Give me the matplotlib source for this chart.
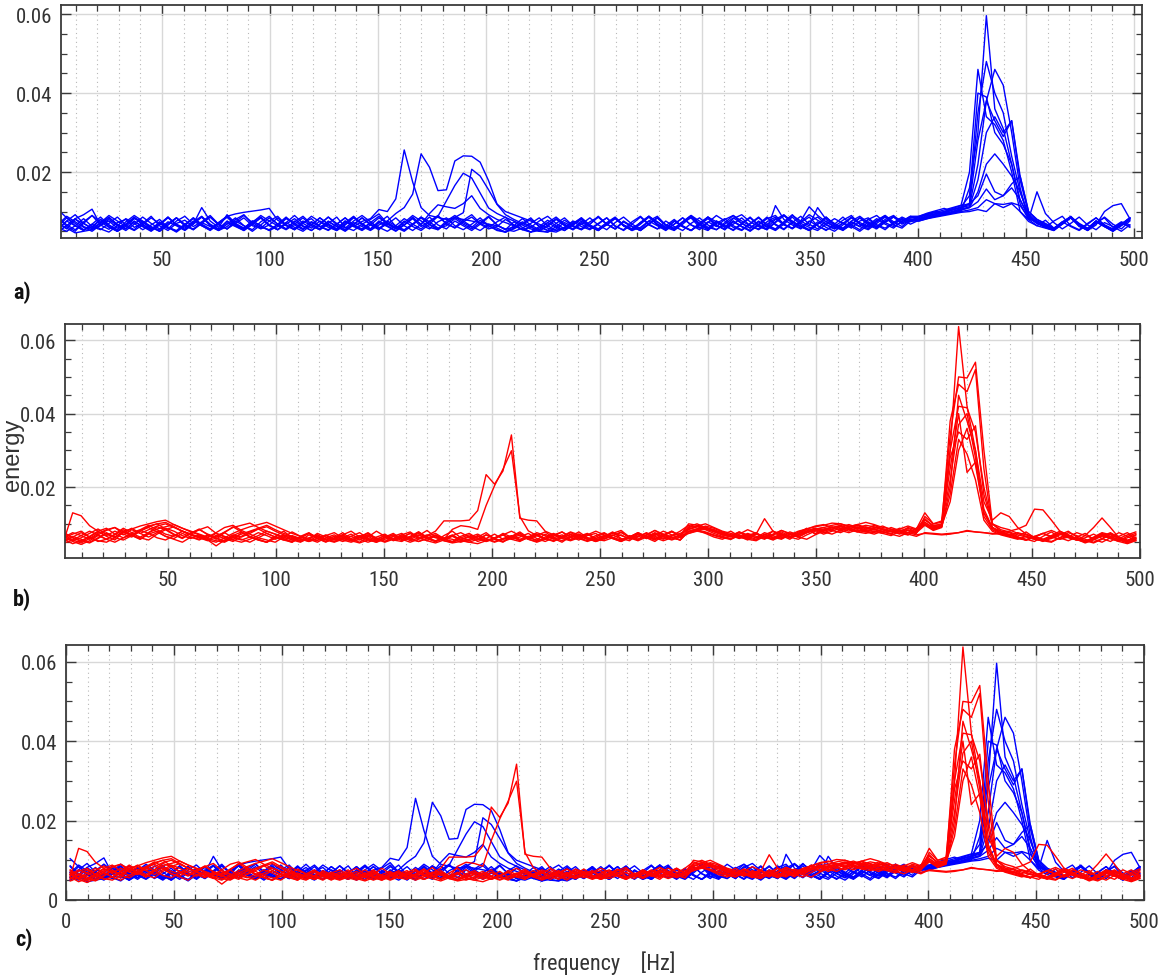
import numpy as np
import matplotlib
matplotlib.use("Agg")
import matplotlib.pyplot as plt
from matplotlib.ticker import MultipleLocator, FuncFormatter

NARROW = ['Liberation Sans Narrow', 'Roboto Condensed', 'DejaVu Sans Condensed',
          'Arial Narrow', 'Liberation Sans', 'DejaVu Sans']
plt.rcParams['font.family'] = NARROW
plt.rcParams['font.stretch'] = 'condensed'

# frequency axis [Hz]; values below are energy in units of 1e-4
freq = (np.arange(1, 129) - 0.5) * 500 / 128
UNIT = 1e-4

blue_1 = [84,62,50,74,90,66,55,72,80,60,70,88,64,52,70,78,
          62,74,90,68,56,70,84,64,58,76,88,66,54,72,82,62,
          70,86,60,52,68,80,94,70,58,66,82,62,76,90,68,60,
          78,92,70,60,74,86,64,54,48,58,72,60,52,66,80,62,
          56,72,86,64,52,60,76,88,66,58,74,84,60,52,70,82,
          64,54,70,86,66,56,74,92,70,60,52,68,82,70,58,76,
          84,66,58,72,80,68,78,84,88,92,96,100,160,300,596,360,
          310,220,120,80,64,78,58,70,86,62,54,72,84,60,74,66]
blue_2 = [56,76,92,70,58,80,66,50,62,82,74,56,68,86,66,54,
          72,86,64,52,62,80,92,68,56,66,84,64,54,70,88,74,
          60,52,66,84,70,56,72,88,62,54,68,86,74,58,64,82,
          68,56,72,88,66,54,50,58,70,84,64,52,60,76,68,56,
          70,84,62,54,74,88,68,56,64,80,62,52,70,86,74,60,
          76,62,52,66,82,90,68,56,72,86,64,54,62,78,90,68,
          60,74,88,66,82,74,82,90,95,100,108,115,120,350,480,400,
          350,240,150,90,70,60,76,88,64,54,70,84,66,56,72,62]
blue_3 = [104,84,64,52,68,56,48,64,82,70,54,66,80,60,52,68,
          82,64,54,70,86,66,58,76,64,52,62,82,70,56,66,84,
          68,56,76,62,52,66,84,70,58,72,90,76,60,54,70,86,
          72,60,78,64,54,48,56,68,80,62,52,70,84,64,56,74,
          86,68,56,76,62,52,70,84,66,56,74,90,76,60,54,68,
          84,70,58,74,60,80,92,74,62,54,68,84,70,58,76,88,
          72,60,76,86,78,84,86,92,98,104,110,116,200,460,340,320,
          280,200,100,75,64,58,52,70,84,66,56,76,62,50,64,78]
blue_4 = [70,56,82,92,106,66,76,58,68,84,74,60,54,70,84,64,
          56,72,86,68,56,74,90,72,60,54,66,84,70,56,74,62,
          54,68,84,66,56,72,60,50,64,82,68,56,74,88,70,58,
          74,86,68,56,62,80,66,54,60,76,88,70,56,66,82,64,
          54,66,82,64,56,70,86,66,54,68,84,66,58,74,62,80,
          90,76,64,54,68,82,66,58,74,92,78,66,56,70,86,72,
          62,78,90,74,62,80,80,88,94,100,106,110,115,220,380,460,
          420,300,160,80,76,62,56,72,86,70,58,76,64,52,68,84]
blue_5 = [50,64,80,70,56,72,90,76,62,52,66,84,70,56,76,88,
          68,110,76,60,92,70,58,74,86,66,54,68,82,64,52,68,
          86,70,58,76,90,74,58,68,84,64,52,68,86,66,56,76,
          64,52,68,86,66,54,74,60,48,62,78,64,52,68,84,66,
          56,68,84,64,52,68,86,74,58,76,64,52,66,82,64,56,
          68,84,64,56,74,86,68,58,76,112,90,74,60,54,66,84,
          70,58,72,86,70,84,84,94,100,96,104,112,140,400,390,300,
          270,220,130,85,70,64,56,72,88,68,56,76,64,54,68,82]
blue_6 = [64,84,70,54,62,80,62,50,68,86,66,54,74,60,50,66,
          84,66,54,72,88,94,98,101,104,108,78,66,56,76,64,54,
          68,54,72,88,68,56,76,64,52,66,86,66,56,74,84,64,
          54,68,84,64,52,48,58,74,62,50,66,82,64,54,68,84,
          66,54,72,86,68,56,76,64,52,68,84,66,54,72,90,76,
          60,52,68,84,66,54,72,90,76,64,110,80,66,56,74,62,
          80,90,72,62,74,88,80,86,92,98,104,110,120,280,380,330,
          290,330,190,100,80,70,58,74,86,66,54,74,62,52,66,80]
blue_7 = [58,50,64,82,62,54,70,86,66,54,74,60,50,66,84,64,
          54,70,86,66,56,76,64,50,66,84,68,56,74,88,68,56,
          76,62,52,68,84,66,54,72,60,50,66,84,68,56,76,90,
          76,62,52,68,58,48,64,82,66,54,72,86,68,56,76,62,
          52,68,84,66,56,72,88,74,60,52,68,86,66,54,74,60,
          82,92,74,62,54,115,80,66,56,74,86,68,56,72,62,50,
          66,82,68,58,76,88,88,96,102,108,100,106,112,180,300,340,
          300,330,180,95,76,66,54,72,86,64,54,74,62,50,66,84]
blue_8 = [68,88,74,60,50,66,84,68,56,76,62,52,68,86,66,54,
          74,88,68,56,76,64,52,68,84,66,54,72,60,50,66,84,
          68,56,76,62,75,82,105,100,132,256,175,110,90,85,80,84,
          80,76,72,68,64,56,60,70,84,62,52,48,58,74,62,54,
          68,84,64,52,68,86,66,56,76,62,52,70,84,66,54,72,
          90,70,58,76,62,52,68,86,66,54,74,60,50,66,84,68,
          56,76,90,70,82,76,88,94,98,92,96,104,110,150,220,246,
          220,190,150,90,74,62,54,68,84,64,52,70,86,68,56,76]
blue_9 = [56,76,64,52,68,86,66,54,74,90,76,62,50,66,84,68,
          54,72,62,52,68,84,64,54,74,88,68,56,76,62,52,68,
          86,66,54,72,62,52,66,76,95,110,144,246,212,153,155,228,
          241,240,225,178,119,100,92,84,76,68,58,52,60,70,84,64,
          52,68,84,64,54,72,88,68,56,76,62,52,68,86,66,54,
          74,62,52,68,86,66,54,72,88,68,56,76,62,52,68,84,
          66,56,74,88,68,78,78,84,88,94,100,108,120,140,195,150,
          140,170,190,100,80,68,56,74,62,52,68,84,66,54,72,60]
blue_10 = [86,66,54,70,90,74,60,50,66,84,68,54,72,60,48,64,
           84,68,56,72,88,68,56,76,64,52,68,86,66,54,74,62,
           52,68,84,64,54,72,88,68,56,76,62,52,68,88,127,166,
           197,185,147,109,95,85,76,66,56,50,48,56,72,62,54,68,
           86,68,56,74,62,52,68,84,66,54,74,90,70,58,76,64,
           52,68,84,64,54,72,90,76,62,52,68,86,66,54,74,62,
           54,70,86,66,58,76,76,82,88,92,98,104,110,125,157,130,
           140,160,130,90,72,60,54,72,86,66,56,76,64,52,68,84]
blue_11 = [50,64,82,62,54,70,86,66,56,74,62,50,66,84,68,58,
           76,64,52,68,86,66,54,72,90,76,64,54,68,84,64,54,
           74,62,50,66,84,68,56,76,64,52,68,86,66,54,72,85,
           97,207,190,155,118,92,80,70,60,52,48,62,78,64,54,68,
           88,68,56,74,62,52,68,84,64,54,72,88,68,56,76,64,
           54,70,86,66,56,74,90,70,58,76,64,52,68,86,66,54,
           74,62,80,90,72,80,76,82,86,90,94,98,100,105,100,120,
           110,120,100,80,150,95,72,56,70,86,66,54,72,62,50,66]
blue_12 = [70,58,46,50,54,64,80,64,52,68,86,70,56,74,64,52,
           68,86,66,54,72,62,52,68,84,64,54,72,90,70,58,76,
           64,52,68,86,66,54,72,62,50,66,84,68,95,117,112,108,
           120,140,108,92,80,72,64,56,48,52,62,80,66,54,72,62,
           52,68,84,66,54,72,88,68,56,76,62,52,70,86,66,54,
           76,62,50,66,84,68,56,74,62,52,68,86,66,54,72,62,
           80,66,54,72,86,76,78,84,90,96,98,100,104,110,130,120,
           118,122,115,85,70,60,52,68,84,64,52,66,100,115,120,82]

red_1 = [58,130,122,95,80,66,56,78,70,58,76,92,84,70,60,74,
         86,70,58,76,92,78,64,56,50,66,80,62,54,70,60,50,
         62,76,58,50,64,80,66,56,52,64,78,60,52,68,80,62,
         54,64,76,58,50,66,78,62,56,72,60,50,66,78,62,54,
         66,78,60,54,72,62,52,68,80,66,92,100,90,84,70,80,
         66,56,74,62,80,68,58,74,88,72,84,92,80,90,96,86,
         96,86,80,74,88,78,110,96,98,300,637,420,300,130,90,80,
         76,66,78,62,54,60,70,80,64,54,48,58,72,62,52,70]
red_2 = [70,56,48,60,74,84,90,72,64,80,94,100,86,72,62,76,
         84,92,74,66,56,76,66,58,50,66,58,50,66,76,60,52,
         60,70,54,64,76,60,52,66,74,58,68,82,64,54,50,58,
         66,52,60,72,58,64,74,58,68,78,62,54,64,72,58,54,
         64,74,82,64,76,64,56,70,80,68,100,96,88,80,70,66,
         78,64,74,60,70,82,72,64,76,86,90,96,100,92,98,104,
         98,90,86,80,76,74,120,100,108,340,500,497,540,300,100,80,
         70,64,58,52,66,78,62,54,64,74,58,50,62,76,66,54]
red_3 = [54,64,76,64,54,50,62,80,86,94,100,106,110,98,88,80,
         72,64,76,90,96,82,72,62,56,50,64,56,50,62,70,58,
         52,62,72,58,50,58,68,54,62,74,64,54,48,56,66,54,
         50,46,54,62,70,58,52,64,72,58,66,78,64,56,68,74,
         58,68,78,62,54,64,74,60,68,80,96,88,84,74,66,60,
         72,84,74,64,58,72,64,78,86,92,96,102,100,94,86,92,
         84,78,74,86,94,86,114,92,96,380,480,460,520,250,90,74,
         72,64,56,66,58,52,62,70,58,48,56,68,60,52,46,54]
red_4 = [64,52,44,54,68,58,70,84,70,80,92,100,104,92,80,72,
         84,72,64,78,90,96,102,90,80,72,64,78,66,58,74,64,
         56,70,80,64,56,50,64,58,70,78,62,54,68,60,52,66,
         74,60,52,60,70,80,68,58,52,64,74,60,54,62,70,80,
         70,62,56,64,76,66,58,68,78,68,88,84,92,80,72,68,
         62,74,66,58,72,82,74,68,80,88,82,90,96,88,82,78,
         88,94,84,78,90,84,100,86,94,300,420,416,350,200,100,90,
         84,74,66,58,54,50,62,76,68,58,50,60,74,64,56,60]
red_5 = [62,72,80,64,52,58,72,88,76,84,96,84,72,66,80,72,
         64,56,50,62,74,84,92,98,104,94,84,74,66,60,54,68,
         76,62,54,68,60,52,64,74,58,66,78,64,52,60,70,56,
         50,58,70,60,52,64,74,60,68,60,52,64,76,66,58,68,
         76,62,54,68,58,70,82,68,62,56,86,92,86,78,70,64,
         76,66,58,72,64,58,70,80,86,94,98,90,84,94,88,80,
         76,86,80,72,84,76,104,90,92,280,350,330,367,180,100,84,
         78,70,64,58,54,62,74,64,56,62,72,60,52,66,76,60]
red_6 = [76,62,54,48,60,74,64,76,88,74,84,94,100,90,80,70,
         66,60,54,50,62,72,80,88,96,84,74,66,58,54,66,58,
         52,60,54,48,56,64,72,58,66,58,52,60,68,54,48,52,
         58,68,58,50,58,66,54,62,72,60,70,64,56,66,72,58,
         54,62,70,58,64,76,66,58,68,74,84,94,100,90,80,74,
         68,62,56,70,62,74,64,58,70,80,86,90,82,92,98,90,
         86,78,72,84,76,86,130,100,104,250,400,240,268,140,90,76,
         80,86,96,140,138,110,80,68,60,54,58,66,76,62,54,64]
red_7 = [64,76,68,58,70,82,90,78,68,62,56,72,84,92,80,70,
         62,54,68,60,52,66,78,86,74,64,56,50,64,58,50,62,
         70,58,66,76,60,52,62,70,58,50,58,66,74,60,68,76,
         64,56,70,60,52,60,70,58,50,58,70,78,64,72,60,52,
         60,70,58,64,74,60,68,80,70,62,80,86,94,88,78,70,
         64,58,54,66,60,70,62,74,84,74,82,90,94,86,78,86,
         90,84,78,88,82,76,96,82,90,200,450,380,300,160,110,130,
         120,90,72,64,58,68,80,70,58,52,64,76,70,60,70,78]
red_8 = [48,56,68,80,70,58,50,62,74,64,76,86,92,98,88,78,
         70,62,74,64,56,50,58,68,80,72,60,52,62,74,64,56,
         50,58,66,56,70,62,52,60,70,60,52,60,70,58,50,62,
         70,60,52,60,74,64,56,64,76,68,58,66,78,70,62,56,
         64,76,68,60,66,74,62,54,62,70,90,94,88,82,74,68,
         78,70,62,76,68,60,72,64,58,70,80,86,92,98,90,96,
         92,86,80,74,70,82,112,94,100,220,370,400,280,120,84,72,
         66,60,56,64,74,82,72,62,56,52,62,74,66,56,48,56]
red_9 = [74,62,52,64,78,68,80,70,84,74,64,76,88,80,68,60,
         70,56,40,56,70,64,74,86,92,80,70,64,58,52,60,68,
         60,52,60,68,58,50,58,66,54,62,70,60,52,60,68,56,
         64,72,60,52,60,68,58,66,54,60,72,64,56,68,60,52,
         60,68,76,64,56,68,60,72,64,56,78,82,88,84,76,70,
         62,72,62,70,80,72,62,70,76,84,90,82,76,86,92,82,
         86,80,90,82,76,88,104,88,96,160,300,360,260,130,88,74,
         70,62,56,64,74,66,58,64,76,68,60,72,64,58,50,58]
red_10 = [58,46,54,66,80,88,72,62,70,82,74,62,56,68,80,70,
          62,56,68,76,62,56,64,76,68,58,68,60,52,60,70,58,
          66,56,50,58,66,54,62,70,58,64,74,62,54,62,58,50,
          58,66,54,62,70,58,64,74,60,52,62,70,58,66,74,60,
          68,60,52,64,74,64,76,66,58,68,74,80,76,68,62,58,
          68,60,72,64,56,66,78,70,80,88,76,84,92,84,78,74,
          80,74,84,78,70,82,98,84,92,180,330,290,220,110,80,70,
          64,58,66,60,52,64,74,64,56,68,90,116,90,62,52,62]
red_11 = [66,54,62,74,86,72,62,56,68,82,90,78,66,60,74,64,
          58,70,62,54,68,78,64,56,50,60,70,56,64,74,60,52,
          60,70,56,64,74,58,68,56,64,74,60,68,80,108,108,108,
          110,136,234,208,244,342,115,110,108,80,70,60,72,62,54,64,
          74,62,54,66,58,70,82,72,64,56,80,84,78,70,64,58,
          70,62,72,114,80,62,72,64,76,82,72,80,88,80,90,84,
          80,74,68,80,72,66,76,74,72,74,76,80,78,76,74,72,
          68,76,70,62,56,66,76,66,58,50,60,72,62,54,66,74]
red_12 = [52,66,58,50,62,76,64,78,68,58,72,80,66,58,50,64,
          56,68,60,52,66,58,50,62,74,64,56,68,60,52,60,70,
          58,66,54,62,70,58,50,58,66,54,62,70,62,58,85,95,
          92,85,150,204,249,299,120,81,68,60,54,62,70,60,52,60,
          68,60,52,62,70,60,72,64,56,64,74,82,74,64,58,68,
          60,68,76,62,70,78,66,74,80,86,78,72,82,76,84,78,
          72,80,72,66,76,70,74,72,70,72,76,82,78,76,72,74,
          70,62,56,66,74,64,58,68,60,52,60,68,60,52,62,70]

blue_series = [blue_1, blue_2, blue_3, blue_4, blue_5, blue_6,
               blue_7, blue_8, blue_9, blue_10, blue_11, blue_12]
red_series = [red_1, red_2, red_3, red_4, red_5, red_6,
              red_7, red_8, red_9, red_10, red_11, red_12]
for i, s in enumerate(blue_series + red_series):
    assert len(s) == 128, (i, len(s))

W, H = 1164, 979
fig = plt.figure(figsize=(W / 100, H / 100), dpi=100)

def box(l, t, r, b):
    return [l / W, 1 - b / H, (r - l) / W, (b - t) / H]

TXT = '#333333'

def style(ax, xlim, ylim):
    ax.set_xlim(*xlim)
    ax.set_ylim(*ylim)
    ax.xaxis.set_major_locator(MultipleLocator(50))
    ax.xaxis.set_minor_locator(MultipleLocator(10))
    ax.yaxis.set_major_locator(MultipleLocator(0.02))
    ax.yaxis.set_minor_locator(MultipleLocator(0.005))
    ax.yaxis.set_major_formatter(FuncFormatter(lambda v, p: '0' if abs(v) < 1e-9 else f'{v:.2f}'))
    ax.grid(which='major', color='#d8d8d8', lw=1.0, ls='-')
    ax.grid(which='minor', axis='x', color='#b8b8b8', lw=0.8, ls=(0, (1, 3)))
    ax.set_axisbelow(True)
    ax.tick_params(which='both', direction='in', top=True, right=True,
                   color='#3a3a3a', labelcolor=TXT, labelsize=15)
    ax.tick_params(which='major', length=7, width=1.0)
    ax.tick_params(which='minor', length=4.5, width=0.9)
    ax.tick_params(axis='x', pad=9)
    ax.tick_params(axis='y', pad=6)
    for sp in ax.spines.values():
        sp.set_color('#3a3a3a')
        sp.set_linewidth(1.3)

LW = 1.0
ax_a = fig.add_axes(box(61, 6, 1142, 239))
for s in blue_series:
    ax_a.plot(freq, np.array(s) * UNIT, color='#0000ff', lw=LW)
style(ax_a, (3.2, 503.7), (0.0033, 0.0623))

ax_b = fig.add_axes(box(65, 325, 1140, 559))
for s in red_series:
    ax_b.plot(freq, np.array(s) * UNIT, color='#ff0000', lw=LW)
style(ax_b, (2.3, 500.0), (0.0007, 0.0644))

ax_c = fig.add_axes(box(66, 646, 1144, 901))
for s in blue_series:
    ax_c.plot(freq, np.array(s) * UNIT, color='#0000ff', lw=LW)
for s in red_series:
    ax_c.plot(freq, np.array(s) * UNIT, color='#ff0000', lw=LW)
style(ax_c, (0, 500), (0, 0.0642))

fig.text(22 / W, 1 - 293 / H, 'a)', ha='center', va='center', fontsize=16, fontweight='bold', color='#111111')
fig.text(22 / W, 1 - 600 / H, 'b)', ha='center', va='center', fontsize=16, fontweight='bold', color='#111111')
fig.text(24 / W, 1 - 940 / H, 'c)', ha='center', va='center', fontsize=16, fontweight='bold', color='#111111')
fig.text(13 / W, 1 - 455 / H, 'energy', ha='center', va='center', rotation=90,
         fontsize=17, color=TXT, family=['Liberation Sans', 'DejaVu Sans'], stretch='normal')
fig.text(604 / W, 1 - 963 / H, 'frequency    [Hz]', ha='center', va='center',
         fontsize=16, color=TXT)

fig.savefig('out.png', dpi=100)
